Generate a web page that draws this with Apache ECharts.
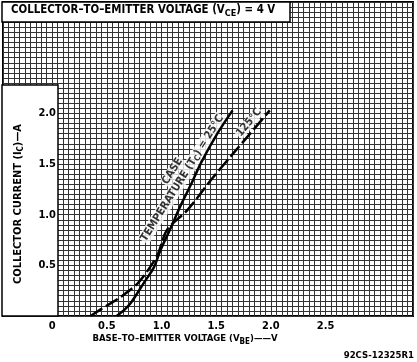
<!DOCTYPE html>
<html>
<head>
<meta charset="utf-8">
<script src="https://cdn.jsdelivr.net/npm/echarts@6/dist/echarts.min.js"></script>
<style>
  html, body { margin: 0; padding: 0; background: #fff; }
  #chart { width: 417px; height: 362px; }
</style>
</head>
<body>
<div id="chart"></div>
<script>
// V_BE (volts) / I_C (amps)
const temp25V = [0.59, 0.66, 0.72, 0.84, 0.93, 0.99, 1.08, 1.17, 1.27, 1.36, 1.51, 1.65]
const temp25I = [0.0, 0.06, 0.13, 0.33, 0.48, 0.65, 0.86, 1.08, 1.30, 1.51, 1.80, 2.03]
const temp125V = [0.35, 0.51, 0.63, 0.78, 0.90, 0.97, 1.05, 1.24, 1.45, 1.66, 1.81, 1.99]
const temp125I = [0.0, 0.11, 0.19, 0.32, 0.49, 0.62, 0.85, 1.05, 1.34, 1.61, 1.80, 2.03]

const xTicks = [0, 0.5, 1.0, 1.5, 2.0, 2.5]
const xTickLabels = ['0', '0.5', '1.0', '1.5', '2.0', '2.5']
const yTicks = [0.5, 1.0, 1.5, 2.0]
const yTickLabels = ['0.5', '1.0', '1.5', '2.0']

const X_MIN = -0.45, X_MAX = 3.3, Y_MIN = 0, Y_MAX = 3.1, STEP = 0.05
const FONT = "'DejaVu Sans Condensed', 'Liberation Sans', sans-serif"

function pickLabel(v, ticks, labels) {
    const i = ticks.findIndex((t) => Math.abs(t - v) < 1e-6)
    return i >= 0 ? labels[i] : ''
}

const pairs = (xs, ys) => xs.map((x, i) => [x, ys[i]])
const sub = (size, pad) => ({ fontFamily: FONT, fontWeight: 'bold', fontSize: size, padding: [pad, 0, 0, 0] })

const chart = echarts.init(document.getElementById('chart'))

const option = {
    animation: false,
    grid: {
        left: 2, top: 2, width: 411, height: 314,
        show: true, borderColor: '#000', borderWidth: 2, backgroundColor: '#fff',
    },
    xAxis: [
        {
            type: 'value', min: X_MIN, max: X_MAX, interval: STEP,
            axisLine: { show: false }, axisTick: { show: false }, axisLabel: { show: false },
            splitLine: { show: true, lineStyle: { color: '#333', width: 1 } },
        },
        {
            type: 'value', min: X_MIN, max: X_MAX, interval: STEP, position: 'bottom', z: 30,
            axisLine: { show: false }, axisTick: { show: false }, splitLine: { show: false },
            axisLabel: {
                margin: 5, color: '#000', fontFamily: FONT, fontWeight: 'bold', fontSize: 11,
                formatter: (v) => pickLabel(v, xTicks, xTickLabels),
            },
        },
    ],
    yAxis: [
        {
            type: 'value', min: Y_MIN, max: Y_MAX, interval: STEP,
            axisLine: { show: false }, axisTick: { show: false }, axisLabel: { show: false },
            splitLine: { show: true, lineStyle: { color: '#333', width: 1 } },
        },
        {
            type: 'value', min: Y_MIN, max: Y_MAX, interval: STEP, position: 'left', z: 30,
            axisLine: { show: false }, axisTick: { show: false }, splitLine: { show: false },
            axisLabel: {
                inside: true, margin: 53, align: 'right', color: '#000',
                fontFamily: FONT, fontWeight: 'bold', fontSize: 11,
                formatter: (v) => pickLabel(v, yTicks, yTickLabels),
            },
        },
    ],
    graphic: [
        {
            type: 'rect', z: 10,
            shape: { x: 2, y: 2, width: 288, height: 20 },
            style: { fill: '#fff', stroke: '#000', lineWidth: 1.5 },
        },
        {
            type: 'rect', z: 10,
            shape: { x: 2, y: 85, width: 56, height: 231 },
            style: { fill: '#fff', stroke: '#000', lineWidth: 1.5 },
        },
        {
            type: 'text', z: 31, left: 11, top: 5,
            style: {
                text: 'COLLECTOR\u2013TO\u2013EMITTER VOLTAGE (V{s|CE}) = 4 V',
                fontFamily: FONT, fontWeight: 'bold', fontSize: 11.4, fill: '#000',
                rich: { s: sub(9, 7) },
            },
        },
        {
            type: 'text', z: 31, x: 18, y: 204, rotation: Math.PI / 2,
            style: {
                text: 'COLLECTOR CURRENT (I{s|C})\u2014A',
                align: 'center', verticalAlign: 'middle',
                fontFamily: FONT, fontWeight: 'bold', fontSize: 11, fill: '#000',
                rich: { s: sub(8, 6) },
            },
        },
        {
            type: 'text', z: 31, x: 185, y: 339,
            style: {
                text: 'BASE\u2013TO\u2013EMITTER VOLTAGE (V{s|BE})\u2014\u2014V',
                align: 'center', verticalAlign: 'middle',
                fontFamily: FONT, fontWeight: 'bold', fontSize: 9.5, fill: '#000',
                rich: { s: sub(8, 6) },
            },
        },
        {
            type: 'text', z: 31, x: 414, y: 356,
            style: {
                text: '92CS-12325R1', align: 'right', verticalAlign: 'middle',
                fontFamily: FONT, fontWeight: 'bold', fontSize: 9.5, fill: '#000',
            },
        },
    ],
    series: [
        {
            name: '25°C', type: 'line', z: 20, smooth: 0.3, showSymbol: false,
            xAxisIndex: 0, yAxisIndex: 0,
            lineStyle: { color: '#000', width: 2.5 },
            data: pairs(temp25V, temp25I),
        },
        {
            name: '125°C', type: 'line', z: 20, smooth: 0.3, showSymbol: false,
            xAxisIndex: 0, yAxisIndex: 0,
            lineStyle: { color: '#000', width: 2.5, type: [14, 4] },
            data: pairs(temp125V, temp125I),
        },
        {
            // curve labels, under the curves
            type: 'scatter', z: 15, symbolSize: 0, xAxisIndex: 0, yAxisIndex: 0,
            label: {
                show: true, position: 'inside', color: '#000',
                fontFamily: FONT, fontWeight: 'bold', fontSize: 11,
                backgroundColor: '#fff', padding: [0, 1],
                formatter: (p) => p.data.text,
            },
            data: [
                { value: [1.10, 1.43], text: 'CASE', label: { rotate: 58 } },
                { value: [1.19, 1.36], text: 'TEMPERATURE (T{s|C}) = 25°C', label: { rotate: 58, rich: { s: sub(8, 5) } } },
                { value: [1.80, 1.91], text: '125°C', label: { rotate: 50 } },
            ],
        },
    ],
}

chart.setOption(option)
</script>
</body>
</html>
